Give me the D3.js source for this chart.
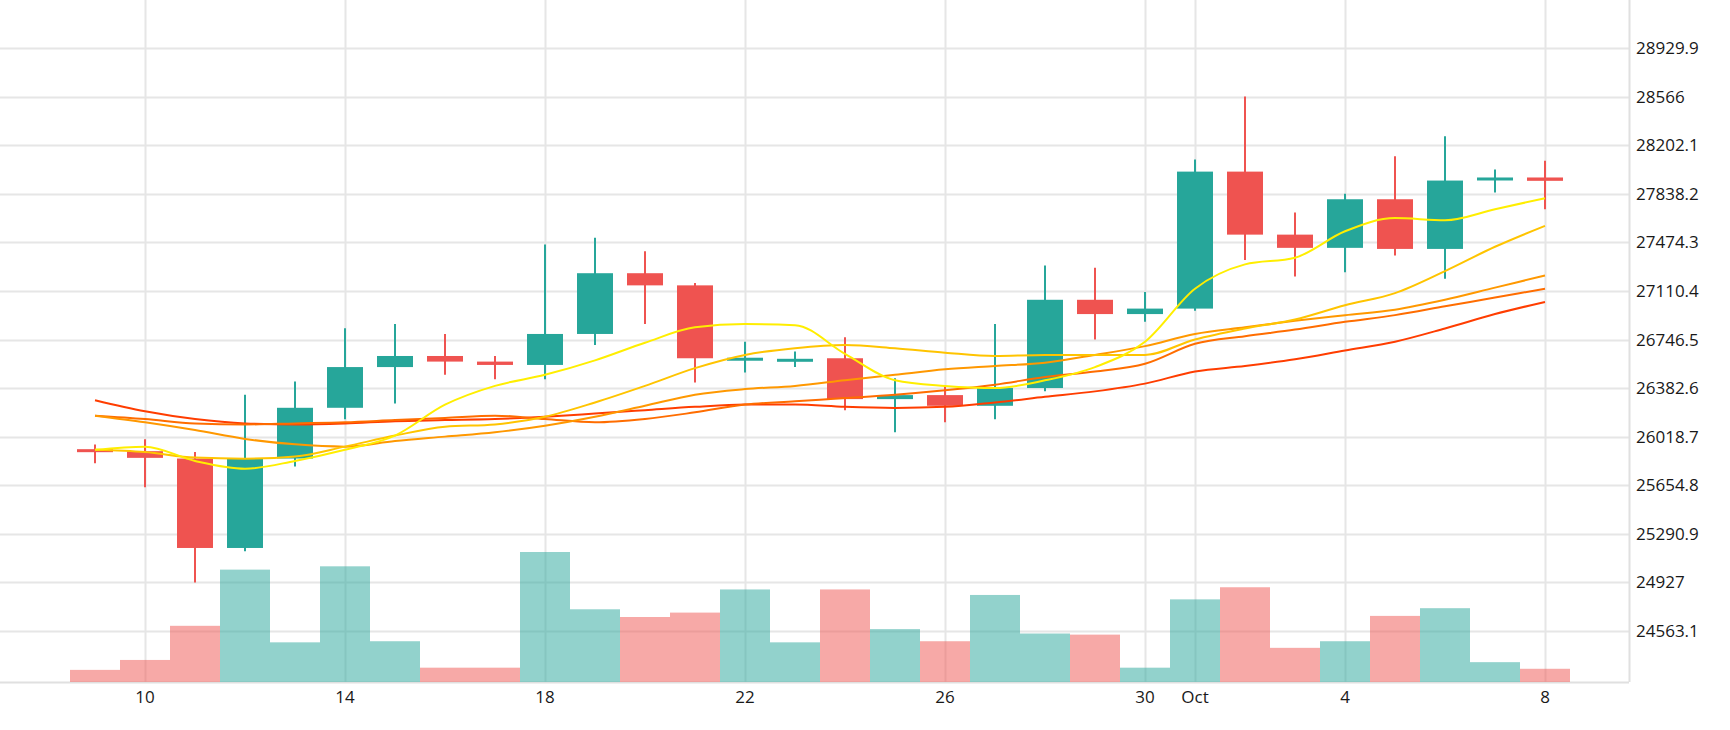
<!DOCTYPE html>
<html><head><meta charset="utf-8">
<script src="https://cdn.jsdelivr.net/npm/d3@7"></script>
<style>body{margin:0;background:#fff}svg{display:block}</style>
</head><body><svg id="c" width="1730" height="730"></svg>
<script>
const days = ["Sep 9","Sep 10","Sep 11","Sep 12","Sep 13","Sep 14","Sep 15","Sep 16","Sep 17","Sep 18","Sep 19","Sep 20","Sep 21","Sep 22","Sep 23","Sep 24","Sep 25","Sep 26","Sep 27","Sep 28","Sep 29","Sep 30","Oct 1","Oct 2","Oct 3","Oct 4","Oct 5","Oct 6","Oct 7","Oct 8"];
const open  = [25925,25910,25855,25185,25855,26235,26540,26623,26581,26556,26788,27243,27152,26600,26598,26606,26300,26330,26250,26383,27044,26937,26978,28004,27532,27433,27797,27425,27950,27960];
const close = [25915,25860,25185,25855,26235,26540,26623,26581,26556,26788,27243,27152,26606,26610,26602,26300,26330,26250,26383,27044,26937,26978,28004,27532,27433,27797,27425,27937,27960,27935];
const high  = [25960,26000,25903,26333,26432,26830,26862,26788,26623,27458,27508,27408,27169,26730,26656,26763,26457,26399,26862,27301,27284,27102,28095,28566,27698,27838,28119,28268,28020,28086];
const low   = [25820,25640,24927,25160,25795,26150,26267,26482,26449,26449,26705,26862,26424,26499,26540,26217,26052,26127,26150,26358,26747,26879,26962,27342,27218,27251,27375,27201,27847,27722];
const volume= [110,200,510,1020,360,1050,370,130,130,1180,660,590,630,840,360,840,480,370,790,440,430,130,750,860,310,370,600,670,180,120];
const ma5   = [25920,25944,25837,25779,25837,25920,26027,26258,26399,26482,26590,26722,26838,26862,26854,26639,26441,26399,26383,26441,26540,26730,27127,27309,27359,27557,27656,27640,27722,27805];
const ma10  = [25920,25903,25862,25854,25870,25944,26027,26093,26110,26168,26275,26399,26532,26631,26681,26705,26681,26648,26623,26631,26631,26631,26747,26829,26896,27003,27094,27259,27441,27598];
const ma20  = [26176,26126,26068,26002,25961,25944,25986,26019,26052,26101,26168,26250,26333,26375,26399,26441,26482,26523,26548,26573,26631,26697,26788,26838,26887,26929,26970,27044,27135,27226];
const ma30  = [26176,26151,26118,26110,26118,26126,26143,26159,26176,26151,26126,26151,26201,26259,26284,26308,26333,26366,26408,26465,26507,26565,26714,26771,26821,26879,26929,26995,27061,27127];
const ma60  = [26292,26209,26151,26118,26110,26118,26135,26143,26151,26168,26192,26217,26242,26259,26259,26242,26234,26242,26275,26317,26358,26416,26507,26548,26598,26664,26730,26829,26937,27028];
const priceTicks = [28929.9,28566,28202.1,27838.2,27474.3,27110.4,26746.5,26382.6,26018.7,25654.8,25290.9,24927,24563.1];
const timeTicks = [[1,"10"],[5,"14"],[9,"18"],[13,"22"],[17,"26"],[21,"30"],[22,"Oct"],[25,"4"],[29,"8"]];

const svg = d3.select("#c");
const W = 1629, B = 682;
const x = d3.scaleLinear().domain([0,29]).range([95,1545]);
const y = d3.scaleLinear().domain([24563.1,28929.9]).range([631,48]);
const vy = d3.scaleLinear().domain([0,1180]).range([B,B-130]);
const step = x(1)-x(0), bw = 36;
const UP="#26a69a", DN="#ef5350";

const g = svg.append("g");
g.selectAll(".hg").data(priceTicks).join("line").attr("x1",0).attr("x2",W).attr("y1",d=>Math.round(y(d))+.5).attr("y2",d=>Math.round(y(d))+.5).attr("stroke","#e6e6e6").attr("stroke-width",2);
g.selectAll(".vg").data(timeTicks).join("line").attr("y1",0).attr("y2",B).attr("x1",d=>Math.round(x(d[0]))+.5).attr("x2",d=>Math.round(x(d[0]))+.5).attr("stroke","#e6e6e6").attr("stroke-width",2);
g.append("line").attr("x1",W+.5).attr("x2",W+.5).attr("y1",0).attr("y2",B).attr("stroke","#e0e0e0").attr("stroke-width",2);
g.append("line").attr("x1",0).attr("x2",W).attr("y1",B+.5).attr("y2",B+.5).attr("stroke","#e0e0e0").attr("stroke-width",2);

const idx = d3.range(days.length);
const up = i => close[i] >= open[i];
svg.append("g").selectAll("rect").data(idx).join("rect")
  .attr("x",i=>x(i)-step/2).attr("width",step).attr("y",i=>vy(volume[i])).attr("height",i=>B-vy(volume[i]))
  .attr("fill",i=>up(i)?UP:DN).attr("opacity",0.5);

const cg = svg.append("g");
cg.selectAll("line").data(idx).join("line").attr("x1",i=>x(i)).attr("x2",i=>x(i)).attr("y1",i=>y(high[i])).attr("y2",i=>y(low[i])).attr("stroke",i=>up(i)?UP:DN).attr("stroke-width",2);
cg.selectAll("rect").data(idx).join("rect").attr("x",i=>x(i)-bw/2).attr("width",bw)
  .attr("y",i=>y(Math.max(open[i],close[i]))).attr("height",i=>Math.max(3,Math.abs(y(open[i])-y(close[i]))))
  .attr("fill",i=>up(i)?UP:DN);

const mas = [[ma60,"#ff3d00"],[ma30,"#ff6d00"],[ma20,"#ff9800"],[ma10,"#ffc400"],[ma5,"#ffee00"]];
const line = d3.line().x((d,i)=>x(i)).y(d=>y(d)).curve(d3.curveMonotoneX);
mas.forEach(([arr,c])=>svg.append("path").attr("d",line(arr)).attr("fill","none").attr("stroke",c).attr("stroke-width",2));

svg.append("g").selectAll("text").data(priceTicks).join("text").attr("x",1636).attr("y",d=>y(d)+6)
  .text(d=>String(d)).attr("font-family","Open Sans").attr("font-size",17).attr("fill","#191919");
svg.append("g").selectAll("text").data(timeTicks).join("text").attr("x",d=>x(d[0])).attr("y",B+21).attr("text-anchor","middle")
  .text(d=>d[1]).attr("font-family","Open Sans").attr("font-size",17).attr("fill","#191919");
</script></body></html>
